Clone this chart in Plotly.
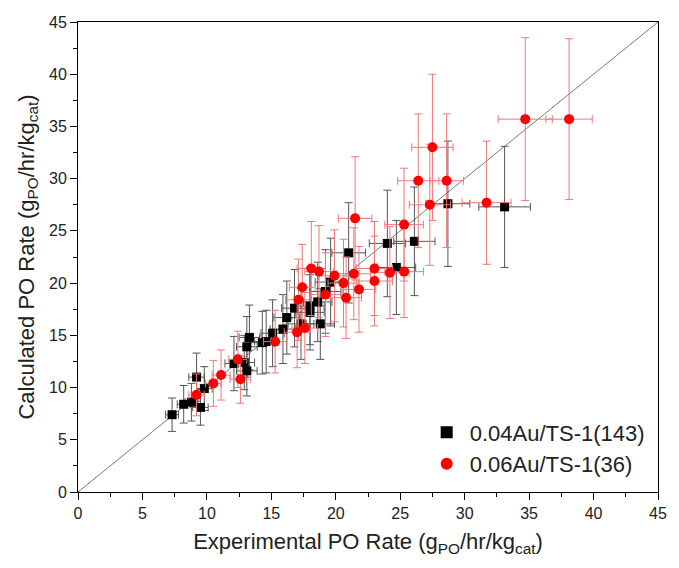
import plotly.graph_objects as go

# 0.04Au/TS-1(143) — black squares
blk_x = [7.3, 8.2, 8.8, 9.2, 9.8, 9.5, 12.1, 12.9, 13.1, 13.3, 13.1, 14.3, 14.6, 15.1, 15.9,
         16.2, 16.8, 17.3, 18.8, 18.0, 18.0, 18.6, 19.2, 19.6, 21.0, 24.0, 26.1, 24.7, 28.7, 33.1]
blk_y = [7.4, 8.4, 8.6, 11.0, 9.9, 8.1, 12.3, 12.4, 11.6, 14.8, 13.9, 14.3, 14.4, 15.2, 15.6,
         16.7, 17.6, 16.1, 16.1, 17.2, 17.8, 18.2, 19.2, 20.1, 22.9, 23.8, 24.0, 21.5, 27.6, 27.3]
blk_ex = [0.5, 0.5, 0.5, 0.6, 0.6, 0.6, 0.7, 0.8, 0.8, 0.8, 0.8, 0.9, 0.9, 0.9, 1.0,
          1.0, 1.0, 1.0, 1.1, 1.1, 1.1, 1.1, 1.2, 1.2, 1.3, 1.4, 1.6, 1.5, 1.7, 2.0]
blk_ey = [1.6, 1.8, 1.8, 2.3, 2.1, 1.7, 2.6, 2.6, 2.4, 3.1, 2.9, 3.0, 3.0, 3.2, 3.3,
          3.5, 3.7, 3.4, 3.4, 3.6, 3.7, 3.8, 4.0, 4.2, 4.8, 5.1, 5.2, 4.5, 6.0, 5.8]

# 0.06Au/TS-1(36) — red circles
red_x = [9.2, 10.5, 11.1, 12.6, 12.4, 15.3, 17.0, 17.6, 17.1, 17.4, 18.1, 18.7, 19.2, 19.9,
         20.6, 20.8, 21.4, 21.8, 23.0, 23.0, 24.2, 25.3, 21.5, 25.3, 26.4, 28.6, 27.3, 27.5,
         31.7, 34.7, 38.1]
red_y = [9.3, 10.4, 11.2, 10.8, 12.7, 14.4, 15.3, 15.7, 18.4, 19.6, 21.4, 21.1, 18.9, 20.7,
         20.0, 18.6, 20.9, 19.4, 21.4, 20.2, 21.0, 21.1, 26.2, 25.6, 29.8, 29.8, 27.5, 33.0,
         27.7, 35.7, 35.7]
red_ex = [0.6, 0.6, 0.7, 0.8, 0.7, 0.9, 1.0, 1.0, 1.0, 1.0, 1.1, 1.1, 1.2, 1.2,
          1.2, 1.2, 1.3, 1.3, 1.4, 1.4, 1.5, 1.5, 1.3, 1.5, 1.6, 1.3, 1.6, 1.6,
          1.9, 2.1, 1.8]
red_ey = [2.0, 2.2, 2.4, 2.3, 2.7, 3.0, 3.4, 3.4, 3.9, 4.1, 4.5, 4.4, 4.0, 4.4,
          4.2, 3.9, 4.4, 4.1, 4.5, 4.3, 4.4, 4.4, 5.9, 5.4, 6.4, 6.4, 5.8, 7.0,
          5.9, 7.8, 7.7]

line_xy = [0, 45]
ticks = [0, 5, 10, 15, 20, 25, 30, 35, 40, 45]

fig = go.Figure()
fig.add_trace(go.Scatter(x=line_xy, y=line_xy, mode="lines",
                         line=dict(color="#777777", width=1), showlegend=False,
                         hoverinfo="skip"))
fig.add_trace(go.Scatter(
    x=blk_x, y=blk_y, mode="markers", name="0.04Au/TS-1(143)",
    marker=dict(symbol="square", size=9, color="black"),
    error_x=dict(type="data", array=blk_ex, color="#555555", thickness=1, width=4),
    error_y=dict(type="data", array=blk_ey, color="#555555", thickness=1, width=4)))
fig.add_trace(go.Scatter(
    x=red_x, y=red_y, mode="markers", name="0.06Au/TS-1(36)",
    marker=dict(symbol="circle", size=10, color="red"),
    error_x=dict(type="data", array=red_ex, color="#f07878", thickness=1, width=4),
    error_y=dict(type="data", array=red_ey, color="#f07878", thickness=1, width=4)))

axis_common = dict(range=[0, 45], tickvals=ticks, showgrid=False, zeroline=False,
                   showline=True, linecolor="black", linewidth=1, mirror=True,
                   ticks="outside", ticklen=7, tickwidth=1, tickcolor="black",
                   tickfont=dict(size=16, color="#222222"),
                   minor=dict(dtick=2.5, ticks="outside", ticklen=4, tickcolor="black"))

fig.update_layout(
    width=679, height=568,
    margin=dict(l=78, r=16, t=22, b=76),
    paper_bgcolor="white", plot_bgcolor="white",
    font=dict(family="Liberation Sans, Arial, sans-serif", color="#222222"),
    xaxis=dict(**axis_common,
               title=dict(text="Experimental PO Rate (g<sub>PO</sub>/hr/kg<sub>cat</sub>)",
                          font=dict(size=22), standoff=12)),
    yaxis=dict(**axis_common,
               title=dict(text="Calculated PO Rate (g<sub>PO</sub>/hr/kg<sub>cat</sub>)",
                          font=dict(size=22), standoff=8)),
    legend=dict(x=0.596, y=0.014, xanchor="left", yanchor="bottom",
                font=dict(size=22, color="#222222"), bgcolor="rgba(0,0,0,0)",
                itemsizing="constant", itemwidth=36),
)

fig.write_html("out.html")
